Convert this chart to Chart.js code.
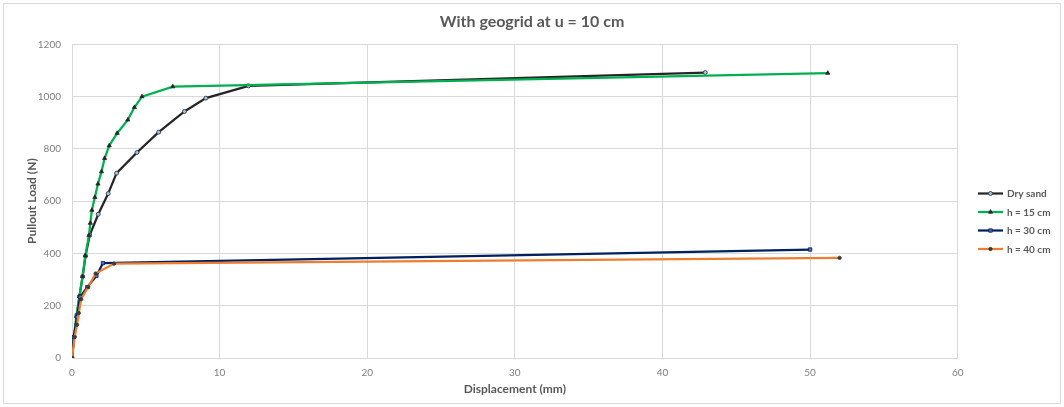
<!DOCTYPE html>
<html><head><meta charset="utf-8">
<script src="https://cdn.jsdelivr.net/npm/chart.js@4/dist/chart.umd.min.js"></script>
<style>html,body{margin:0;padding:0;background:#fff;}#wrap{position:relative;width:1064px;height:407px;}</style>
</head><body><div id="wrap"><canvas id="c"></canvas></div>
<script>
const chartTitle = 'With geogrid at u = 10 cm';
const xTitle = 'Displacement (mm)';
const yTitle = 'Pullout Load (N)';
const seriesNames = ['Dry sand', 'h = 15 cm', 'h = 30 cm', 'h = 40 cm'];

const dryX = [0, 0.15, 0.33, 0.5, 0.72, 0.92, 1.2, 1.78, 2.45, 3.02, 4.4, 5.87, 7.62, 9.07, 11.96, 42.9];
const dryY = [0, 82, 165, 235, 312, 391, 470, 550, 629, 707, 786, 864, 943, 994, 1041, 1092];

const h15X = [0, 0.12, 0.3, 0.5, 0.72, 0.9, 1.15, 1.24, 1.35, 1.55, 1.76, 2.0, 2.21, 2.52, 3.06, 3.78, 4.23, 4.74, 6.83, 51.2];
const h15Y = [0, 80, 160, 235, 312, 391, 469, 516, 566, 615, 666, 713, 764, 812, 860, 911, 959, 1000, 1038, 1090];

const h30X = [0, 0.12, 0.34, 0.55, 1.04, 1.65, 2.1, 50.0];
const h30Y = [0, 80, 157, 234, 271, 314, 363, 415];

const h40X = [0, 0.18, 0.34, 0.46, 0.62, 1.1, 1.6, 2.85, 52.0];
const h40Y = [0, 80, 127, 172, 225, 272, 323, 361, 383];

const xMin = 0, xMax = 60, xStep = 10;
const yMin = 0, yMax = 1200, yStep = 200;

const FONT = 'Lato, "Open Sans", "Liberation Sans", sans-serif';
const pts = (xs, ys) => xs.map((x, i) => ({x: x, y: ys[i]}));

const styles = [
  {line: '#262626', ps: 'circle', r: 2, bg: '#9dc3e6', bd: '#303030'},
  {line: '#00b050', ps: 'triangle', r: 2.4, bg: '#262626', bd: '#262626'},
  {line: '#002060', ps: 'rect', r: 2.4, bg: '#4472c4', bd: '#0b1a3a'},
  {line: '#ed7d31', ps: 'circle', r: 1.7, bg: '#3a3a3a', bd: '#3a3a3a'}
];
const allData = [pts(dryX, dryY), pts(h15X, h15Y), pts(h30X, h30Y), pts(h40X, h40Y)];

const datasets = allData.map((d, i) => ({
  label: seriesNames[i],
  data: d,
  showLine: true,
  borderColor: styles[i].line,
  borderWidth: 2.25,
  tension: 0,
  pointStyle: styles[i].ps,
  pointRadius: styles[i].r,
  pointBackgroundColor: styles[i].bg,
  pointBorderColor: styles[i].bd,
  pointBorderWidth: 0.8,
  order: 4 - i
}));

const bgBorder = {
  id: 'bgBorder',
  beforeDraw(chart) {
    const ctx = chart.ctx;
    ctx.save();
    ctx.fillStyle = '#fff';
    ctx.fillRect(0, 0, chart.width, chart.height);
    ctx.restore();
  },
  afterDraw(chart) {
    const ctx = chart.ctx;
    ctx.save();
    ctx.strokeStyle = '#d9d9d9';
    ctx.lineWidth = 1;
    ctx.strokeRect(3.5, 3.5, chart.width - 7, chart.height - 7);
    ctx.restore();
  }
};

const customLegend = {
  id: 'customLegend',
  afterDraw(chart) {
    const ctx = chart.ctx;
    const rowsY = [193.5, 212, 230.5, 249];
    ctx.save();
    chart.data.datasets.forEach((ds, i) => {
      const y = rowsY[i];
      ctx.strokeStyle = styles[i].line;
      ctx.lineWidth = 2.25;
      ctx.beginPath();
      ctx.moveTo(978, y);
      ctx.lineTo(1003, y);
      ctx.stroke();
      ctx.fillStyle = styles[i].bg;
      ctx.strokeStyle = styles[i].bd;
      ctx.lineWidth = 0.8;
      Chart.helpers.drawPoint(ctx, {pointStyle: styles[i].ps, radius: styles[i].r, rotation: 0, borderWidth: 0.8}, 990.5, y);
      ctx.fillStyle = '#595959';
      ctx.font = 'bold 10px ' + FONT;
      ctx.textAlign = 'left';
      ctx.textBaseline = 'middle';
      ctx.fillText(ds.label, 1007, y + 0.5);
    });
    ctx.restore();
  }
};

new Chart(document.getElementById('c'), {
  type: 'scatter',
  data: {datasets: datasets},
  plugins: [bgBorder, customLegend],
  options: {
    responsive: true,
    maintainAspectRatio: false,
    animation: false,
    layout: {padding: {left: 0, right: 0, top: 0, bottom: 0}},
    plugins: {
      legend: {display: false},
      tooltip: {enabled: false},
      title: {
        display: true,
        text: chartTitle,
        color: '#595959',
        font: {family: FONT, size: 16, weight: 'bold', lineHeight: 1.2},
        padding: {top: 12.4, bottom: 12.7}
      }
    },
    scales: {
      x: {
        type: 'linear',
        min: xMin, max: xMax,
        afterFit(s) { s.height = 49; },
        ticks: {stepSize: xStep, color: '#7f7f7f', font: {family: FONT, size: 10}, padding: 8.7, maxRotation: 0,
                callback: (v) => String(v)},
        grid: {color: '#d9d9d9', lineWidth: 1, drawTicks: false},
        border: {display: true, color: '#d9d9d9'},
        title: {display: true, text: xTitle, color: '#595959', font: {family: FONT, size: 12, weight: 'bold', lineHeight: 1.2}, padding: {top: 0, bottom: 10.8}}
      },
      y: {
        type: 'linear',
        min: yMin, max: yMax,
        afterFit(s) { s.width = 72; },
        ticks: {stepSize: yStep, color: '#7f7f7f', font: {family: FONT, size: 10}, padding: 11,
                callback: (v) => String(v)},
        grid: {color: '#d9d9d9', lineWidth: 1, drawTicks: false},
        border: {display: true, color: '#d9d9d9'},
        title: {display: true, text: yTitle, color: '#595959', font: {family: FONT, size: 12, weight: 'bold', lineHeight: 1.2}, padding: {top: 24.8, bottom: 0}}
      },
      yRight: {
        type: 'linear',
        position: 'right',
        display: true,
        min: 0, max: 1,
        afterFit(s) { s.width = 106.3; },
        ticks: {display: false},
        grid: {display: false, drawTicks: false},
        border: {display: false},
        title: {display: false}
      }
    }
  }
});
</script>
</body></html>
